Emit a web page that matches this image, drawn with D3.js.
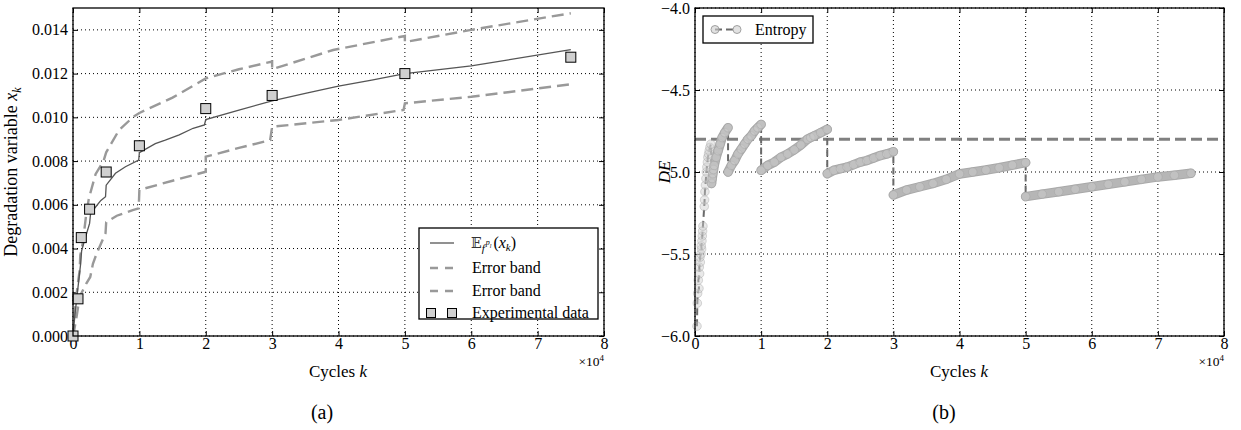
<!DOCTYPE html>
<html>
<head>
<meta charset="utf-8">
<script src="https://cdn.jsdelivr.net/npm/d3@7"></script>
<style>
body { margin: 0; background: #fff; }
svg text { font-family: "Liberation Serif", "Times New Roman", serif; fill: #000; }
</style>
</head>
<body>
<svg id="chart" width="1241" height="430" font-family="Liberation Serif"></svg>
<script>
// ---- shared axis ticks ----
var xTicks = [0, 1, 2, 3, 4, 5, 6, 7, 8];
var degTicks = [0, 0.002, 0.004, 0.006, 0.008, 0.010, 0.012, 0.014];
var deTicks = [-6.0, -5.5, -5.0, -4.5, -4.0];

// ---- (a) degradation variable, cycles in 1e4 ----
var meanK = [0, 0.03, 0.065, 0.1, 0.115, 0.13, 0.19, 0.25, 0.265, 0.34, 0.42, 0.49, 0.5, 0.64, 0.79, 0.99, 1.0, 1.24, 1.39, 1.6, 1.81, 1.98, 2.0, 2.5, 3.0, 3.5, 4.0, 4.5, 5.0, 6.0, 7.5];
var meanX = [0, 0.0010, 0.00195, 0.0029, 0.0033, 0.0039, 0.00454, 0.00515, 0.0056, 0.0059, 0.0062, 0.00637, 0.0069, 0.00744, 0.00774, 0.00805, 0.00838, 0.0088, 0.00896, 0.0092, 0.0095, 0.00965, 0.0099, 0.01033, 0.01075, 0.0111, 0.01143, 0.0117, 0.0120, 0.01235, 0.0131];

var upperK = [0, 0.03, 0.065, 0.1, 0.11, 0.15, 0.2, 0.24, 0.34, 0.46, 0.5, 0.69, 0.91, 1.0, 1.5, 2.0, 2.5, 3.0, 3.0, 3.92, 5.0, 5.0, 6.0, 7.5];
var upperX = [0, 0.0012, 0.0022, 0.0030, 0.0037, 0.0043, 0.0056, 0.0063, 0.0074, 0.0080, 0.0084, 0.0094, 0.01003, 0.0102, 0.0109, 0.01178, 0.0122, 0.01255, 0.0122, 0.01308, 0.01372, 0.01344, 0.0140, 0.01476];

var lowerK = [0, 0.02, 0.055, 0.1, 0.2, 0.26, 0.3, 0.36, 0.49, 0.5, 0.66, 0.9, 0.99, 1.0, 1.5, 2.0, 2.0, 2.5, 2.97, 3.0, 4.0, 4.98, 5.0, 6.0, 7.5];
var lowerX = [0, 0.0003, 0.0009, 0.0018, 0.0024, 0.0027, 0.0033, 0.0038, 0.0047, 0.0052, 0.0055, 0.00576, 0.00584, 0.00668, 0.0071, 0.00751, 0.0082, 0.0086, 0.00896, 0.00957, 0.00988, 0.01034, 0.01064, 0.01094, 0.01151];

var expK = [0, 0.075, 0.125, 0.25, 0.5, 1, 2, 3, 5, 7.5];
var expX = [0, 0.0017, 0.0045, 0.0058, 0.0075, 0.0087, 0.0104, 0.0110, 0.0120, 0.01275];

// ---- (b) entropy, one sub-array per continuous piece ----
var entropyK = [
  [0.03, 0.035, 0.04, 0.06, 0.05, 0.07, 0.065, 0.08, 0.075, 0.09, 0.1, 0.095, 0.105, 0.11, 0.115, 0.12],
  [0.14, 0.145, 0.15, 0.158, 0.165, 0.172, 0.18, 0.188, 0.195, 0.205, 0.215, 0.225, 0.24],
  [0.25, 0.26, 0.27, 0.28, 0.29, 0.32, 0.35, 0.38, 0.41, 0.45, 0.5],
  [0.5, 0.55, 0.6, 0.65, 0.7, 0.75, 0.8, 0.85, 0.9, 0.95, 1.0],
  [1.0, 1.1, 1.2, 1.3, 1.4, 1.5, 1.6, 1.7, 1.75, 1.8, 1.9, 2.0],
  [2.0, 2.1, 2.2, 2.3, 2.4, 2.5, 2.6, 2.7, 2.8, 2.9, 3.0],
  [3.0, 3.2, 3.4, 3.6, 3.8, 4.0, 4.2, 4.4, 4.6, 4.8, 5.0],
  [5.0, 5.25, 5.5, 5.75, 6.0, 6.25, 6.5, 6.75, 7.0, 7.25, 7.5]
];
var entropyDE = [
  [-5.94, -5.80, -5.74, -5.71, -5.66, -5.62, -5.58, -5.55, -5.52, -5.5, -5.47, -5.45, -5.42, -5.39, -5.36, -5.33],
  [-5.21, -5.17, -5.12, -5.08, -5.04, -5.0, -4.97, -4.94, -4.91, -4.89, -4.87, -4.85, -4.83],
  [-5.07, -5.04, -5.01, -4.985, -4.96, -4.91, -4.87, -4.83, -4.79, -4.76, -4.73],
  [-5.0, -4.96, -4.93, -4.89, -4.86, -4.83, -4.8, -4.78, -4.75, -4.73, -4.71],
  [-4.99, -4.96, -4.94, -4.91, -4.89, -4.865, -4.835, -4.80, -4.79, -4.78, -4.76, -4.74],
  [-5.01, -4.99, -4.98, -4.97, -4.955, -4.94, -4.93, -4.915, -4.9, -4.89, -4.876],
  [-5.14, -5.11, -5.09, -5.07, -5.045, -5.012, -5.0, -4.988, -4.974, -4.958, -4.943],
  [-5.15, -5.135, -5.12, -5.105, -5.09, -5.075, -5.06, -5.045, -5.03, -5.02, -5.008]
];
var entropyThreshold = -4.8;

var svg = d3.select('#chart');

function zip(a, b) { return a.map(function(v, i) { return [v, b[i]]; }); }

function frame(g, x, y, yTicks, yFmt) {
  var X0 = x.range()[0], X1 = x.range()[1];
  var Y0 = y.range()[1], Y1 = y.range()[0];

  // dotted grid
  var grid = g.append('g').attr('class', 'grid');
  grid.selectAll('line.gx').data(xTicks).enter().append('line')
    .attr('x1', function(d) { return x(d); }).attr('x2', function(d) { return x(d); })
    .attr('y1', Y0).attr('y2', Y1);
  grid.selectAll('line.gy').data(yTicks).enter().append('line')
    .attr('y1', function(d) { return y(d); }).attr('y2', function(d) { return y(d); })
    .attr('x1', X0).attr('x2', X1);
  grid.selectAll('line').attr('stroke', '#000').attr('stroke-width', 1).attr('stroke-dasharray', '1,3');

  var axes = [
    g.append('g').attr('transform', 'translate(0,' + Y1 + ')')
      .call(d3.axisBottom(x).tickValues(xTicks).tickSize(-5).tickPadding(2).tickFormat(d3.format('d'))),
    g.append('g').attr('transform', 'translate(0,' + Y0 + ')')
      .call(d3.axisTop(x).tickValues(xTicks).tickSize(-5).tickFormat('')),
    g.append('g').attr('transform', 'translate(' + X0 + ',0)')
      .call(d3.axisLeft(y).tickValues(yTicks).tickSize(-5).tickPadding(5).tickFormat(yFmt)),
    g.append('g').attr('transform', 'translate(' + X1 + ',0)')
      .call(d3.axisRight(y).tickValues(yTicks).tickSize(-5).tickFormat(''))
  ];
  axes.forEach(function(a) {
    a.select('.domain').remove();
    a.attr('font-family', 'Liberation Serif').attr('font-size', 16);
    a.selectAll('.tick line').attr('stroke', '#000').attr('stroke-width', 1);
  });
}

function border(g, x, y) {
  g.append('rect')
    .attr('x', x.range()[0]).attr('y', y.range()[1])
    .attr('width', x.range()[1] - x.range()[0]).attr('height', y.range()[0] - y.range()[1])
    .attr('fill', 'none').attr('stroke', '#000').attr('stroke-width', 1.3);
}

function xLabel(g, cx, right, base, tag) {
  var t = g.append('text').attr('x', cx).attr('y', 377).attr('text-anchor', 'middle').attr('font-size', 17);
  t.append('tspan').text('Cycles ');
  t.append('tspan').attr('font-style', 'italic').text('k');
  var m = g.append('text').attr('x', right).attr('y', 366).attr('text-anchor', 'end').attr('font-size', 13.5);
  m.append('tspan').text('\u00d710');
  m.append('tspan').attr('font-size', 9).attr('dy', -5).text('4');
  g.append('text').attr('x', tag).attr('y', 419).attr('text-anchor', 'middle').attr('font-size', 20).text(base);
}

// ================= (a) =================
var xa = d3.scaleLinear().domain([0, 8]).range([73, 604]);
var ya = d3.scaleLinear().domain([0, 0.015]).range([336, 8]);
var ga = svg.append('g');
frame(ga, xa, ya, degTicks, d3.format('.3f'));

var lineA = d3.line().x(function(d) { return xa(d[0]); }).y(function(d) { return ya(d[1]); });
ga.append('path').datum(zip(upperK, upperX)).attr('d', lineA)
  .attr('fill', 'none').attr('stroke', '#999').attr('stroke-width', 2.4).attr('stroke-dasharray', '12,6');
ga.append('path').datum(zip(lowerK, lowerX)).attr('d', lineA)
  .attr('fill', 'none').attr('stroke', '#999').attr('stroke-width', 2.4).attr('stroke-dasharray', '12,6');
ga.append('path').datum(zip(meanK, meanX)).attr('d', lineA)
  .attr('fill', 'none').attr('stroke', '#555').attr('stroke-width', 1.3);

ga.selectAll('rect.exp').data(zip(expK, expX)).enter().append('rect')
  .attr('class', 'exp')
  .attr('x', function(d) { return xa(d[0]) - 5; }).attr('y', function(d) { return ya(d[1]) - 5; })
  .attr('width', 10).attr('height', 10)
  .attr('fill', '#d0d0d0').attr('stroke', '#000').attr('stroke-width', 1);

border(ga, xa, ya);

// legend (a)
var lg = ga.append('g');
lg.append('rect').attr('x', 419).attr('y', 228).attr('width', 179).attr('height', 91)
  .attr('fill', '#fff').attr('stroke', '#000').attr('stroke-width', 1.3);
var legRows = [243, 268, 291, 313];
lg.append('line').attr('x1', 430).attr('x2', 454).attr('y1', legRows[0]).attr('y2', legRows[0])
  .attr('stroke', '#555').attr('stroke-width', 1.3);
[1, 2].forEach(function(i) {
  lg.append('line').attr('x1', 430).attr('x2', 454).attr('y1', legRows[i]).attr('y2', legRows[i])
    .attr('stroke', '#999').attr('stroke-width', 2.4).attr('stroke-dasharray', '8,7');
});
[431, 452].forEach(function(cx) {
  lg.append('rect').attr('x', cx - 4.5).attr('y', legRows[3] - 4.5).attr('width', 9).attr('height', 9)
    .attr('fill', '#d0d0d0').attr('stroke', '#000');
});
var e = lg.append('text').attr('x', 471).attr('y', legRows[0] + 5).attr('font-size', 16);
e.append('tspan').attr('font-family', 'DejaVu Serif').attr('font-size', 14).attr('fill', '#333').text('\ud835\udd3c');
e.append('tspan').attr('font-style', 'italic').attr('font-size', 11).attr('dy', 4).text('f');
e.append('tspan').attr('font-style', 'italic').attr('font-size', 8).attr('dx', 1).attr('dy', -7).text('p');
e.append('tspan').attr('font-style', 'italic').attr('font-size', 6).attr('dy', 3).text('l');
e.append('tspan').attr('dx', 2).attr('dy', 0).text('(');
e.append('tspan').attr('font-style', 'italic').text('x');
e.append('tspan').attr('font-style', 'italic').attr('font-size', 11).attr('dy', 3).text('k');
e.append('tspan').attr('dy', -3).text(')');
lg.append('text').attr('x', 472).attr('y', legRows[1] + 5).attr('font-size', 16).text('Error band');
lg.append('text').attr('x', 472).attr('y', legRows[2] + 5).attr('font-size', 16).text('Error band');
lg.append('text').attr('x', 472).attr('y', legRows[3] + 5).attr('font-size', 16).text('Experimental data');

var yl = ga.append('text').attr('transform', 'translate(17,172) rotate(-90)')
  .attr('text-anchor', 'middle').attr('font-size', 18);
yl.append('tspan').text('Degradation variable ');
yl.append('tspan').attr('font-style', 'italic').text('x');
yl.append('tspan').attr('font-style', 'italic').attr('font-size', 12).attr('dy', 4).text('k');

xLabel(ga, 338, 604, '(a)', 322);

// ================= (b) =================
var xb = d3.scaleLinear().domain([0, 8]).range([695, 1224]);
var yb = d3.scaleLinear().domain([-6, -4]).range([336, 8]);
var gb = svg.append('g');
frame(gb, xb, yb, deTicks, d3.format('.1f'));

var lineB = d3.line().x(function(d) { return xb(d[0]); }).y(function(d) { return yb(d[1]); });

gb.append('path').datum([[0, entropyThreshold], [8, entropyThreshold]]).attr('d', lineB)
  .attr('stroke', '#808080').attr('stroke-width', 3).attr('stroke-dasharray', '11,5').attr('fill', 'none');

var allPts = [];
entropyK.forEach(function(ks, s) { allPts = allPts.concat(zip(ks, entropyDE[s])); });

gb.append('path').datum(allPts).attr('d', lineB)
  .attr('fill', 'none').attr('stroke', '#6a6a6a').attr('stroke-width', 2).attr('stroke-dasharray', '7,4');

entropyK.forEach(function(ks, s) {
  if (s < 2) return;
  var seg = zip(ks, entropyDE[s]);
  gb.append('path').datum(seg).attr('d', lineB)
    .attr('fill', 'none').attr('stroke', '#a9a9a9').attr('stroke-width', 9.5).attr('stroke-linecap', 'round');
  gb.append('path').datum(seg).attr('d', lineB)
    .attr('fill', 'none').attr('stroke', '#b6b6b6').attr('stroke-width', 7.5).attr('stroke-linecap', 'round');
});

gb.selectAll('circle.ent').data(allPts).enter().append('circle')
  .attr('class', 'ent')
  .attr('cx', function(d) { return xb(d[0]); }).attr('cy', function(d) { return yb(d[1]); })
  .attr('r', 4.3)
  .attr('fill', '#cfcfcf').attr('fill-opacity', 0.45)
  .attr('stroke', '#a0a0a0').attr('stroke-opacity', 0.4).attr('stroke-width', 1);

border(gb, xb, yb);

// legend (b)
var lb = gb.append('g');
lb.append('rect').attr('x', 703).attr('y', 16).attr('width', 110).attr('height', 27)
  .attr('fill', '#fff').attr('stroke', '#000').attr('stroke-width', 1.3);
lb.append('line').attr('x1', 715).attr('x2', 737).attr('y1', 29.5).attr('y2', 29.5)
  .attr('stroke', '#6a6a6a').attr('stroke-width', 2).attr('stroke-dasharray', '7,4');
[715, 737].forEach(function(cx) {
  lb.append('circle').attr('cx', cx).attr('cy', 29.5).attr('r', 4)
    .attr('fill', '#cfcfcf').attr('fill-opacity', 0.6).attr('stroke', '#a0a0a0');
});
lb.append('text').attr('x', 755).attr('y', 35).attr('font-size', 16).text('Entropy');

gb.append('text').attr('transform', 'translate(670,172) rotate(-90)')
  .attr('text-anchor', 'middle').attr('font-size', 17).attr('font-style', 'italic').text('DE');

xLabel(gb, 959, 1224, '(b)', 944);
</script>
</body>
</html>
